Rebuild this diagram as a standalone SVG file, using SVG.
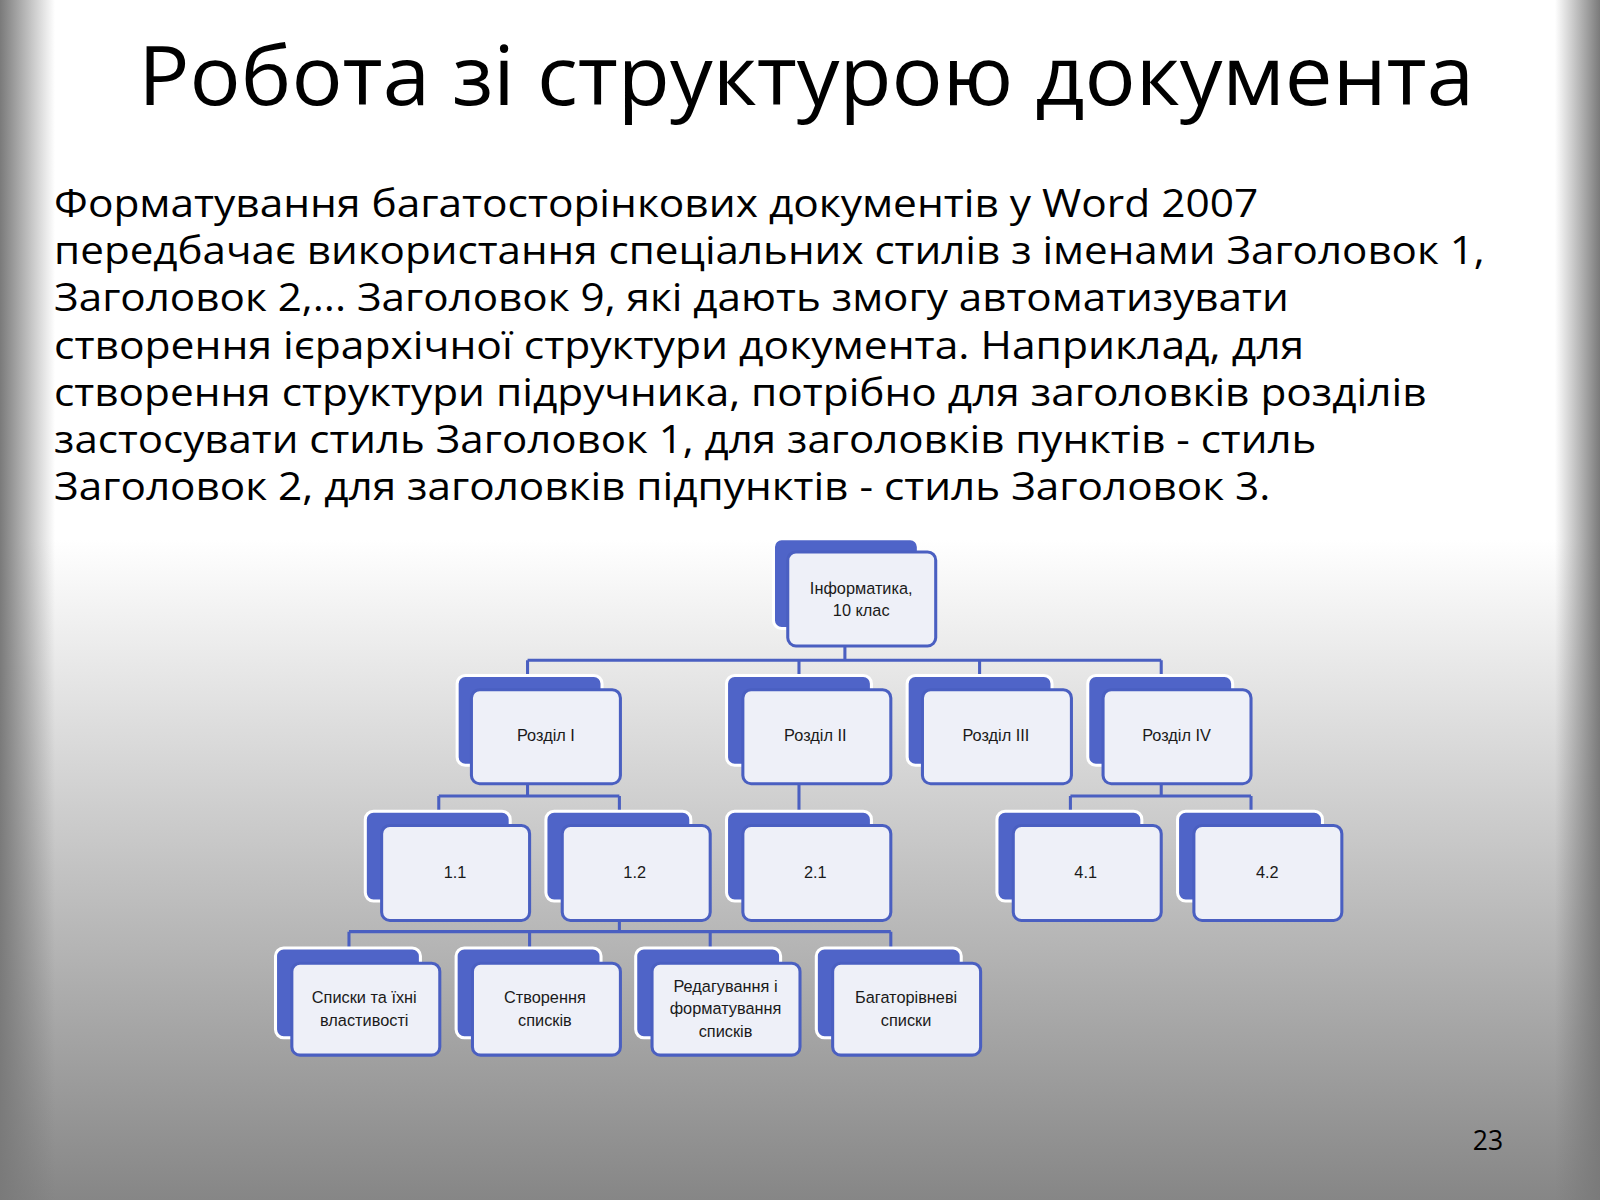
<svg xmlns="http://www.w3.org/2000/svg" width="1600" height="1200" viewBox="0 0 1600 1200">
<defs>
<linearGradient id="bg" x1="0" y1="0" x2="0" y2="1">
<stop offset="0" stop-color="#ffffff"/><stop offset="0.45" stop-color="#ffffff"/><stop offset="1" stop-color="#868686"/>
</linearGradient>
<linearGradient id="lft" x1="0" y1="0" x2="1" y2="0">
<stop offset="0" stop-color="#7a7a7a"/><stop offset="1" stop-color="#7a7a7a" stop-opacity="0"/>
</linearGradient>
<linearGradient id="rgt" x1="1" y1="0" x2="0" y2="0">
<stop offset="0" stop-color="#7a7a7a"/><stop offset="1" stop-color="#7a7a7a" stop-opacity="0"/>
</linearGradient>
<style>
.bk{fill:#4f64c8;stroke:#ffffff;stroke-width:3}
.fr{fill:#eef0f8;stroke:#4a5fc1;stroke-width:3}
.ln{fill:none;stroke:#4a5fc1;stroke-width:3}
.nt{font-family:"Liberation Sans Narrow","Liberation Sans",sans-serif;font-size:16px;fill:#1a1a1a;text-anchor:middle}
.bt{font-family:"Open Sans","Liberation Sans",sans-serif;font-size:38px;fill:#000}
</style>
</defs>
<rect width="1600" height="1200" fill="url(#bg)"/>
<rect x="0" y="0" width="55" height="1200" fill="url(#lft)"/>
<rect x="1555" y="0" width="45" height="1200" fill="url(#rgt)"/>
<g transform="scale(1.020408)">
<text x="790" y="103" font-family="Open Sans, Liberation Sans, sans-serif" font-size="80" text-anchor="middle" textLength="1309" lengthAdjust="spacingAndGlyphs">Робота зі структурою документа</text>
<g class="bt">
<text x="53" y="213" textLength="1180" lengthAdjust="spacingAndGlyphs">Форматування багатосторінкових документів у Word 2007</text>
<text x="53" y="259" textLength="1402" lengthAdjust="spacingAndGlyphs">передбачає використання спеціальних стилів з іменами Заголовок 1,</text>
<text x="53" y="305" textLength="1210" lengthAdjust="spacingAndGlyphs">Заголовок 2,... Заголовок 9, які дають змогу автоматизувати</text>
<text x="53" y="352" textLength="1225" lengthAdjust="spacingAndGlyphs">створення ієрархічної структури документа. Наприклад, для</text>
<text x="53" y="398" textLength="1345" lengthAdjust="spacingAndGlyphs">створення структури підручника, потрібно для заголовків розділів</text>
<text x="53" y="444" textLength="1237" lengthAdjust="spacingAndGlyphs">застосувати стиль Заголовок 1, для заголовків пунктів - стиль</text>
<text x="53" y="490" textLength="1192" lengthAdjust="spacingAndGlyphs">Заголовок 2, для заголовків підпунктів - стиль Заголовок 3.</text>
</g>
<g id="connectors" class="ln">
<path d="M828 633V647M517 647H1138M517 647V662M783 647V662M960 647V662M1138 647V662"/>
<path d="M517 768V780M430 780H607M430 780V795M607 780V795"/>
<path d="M783 768V795"/>
<path d="M1138 768V780M1049 780H1226M1049 780V795M1226 780V795"/>
<path d="M607 902V913M342 913H873M342 913V929M519 913V929M696 913V929M873 913V929"/>
</g>
<g id="n0"><rect class="bk" x="758" y="528" width="142" height="88" rx="8"/><rect class="fr" x="772" y="541" width="145" height="92" rx="8"/><text class="nt" x="844" y="582">Інформатика,</text><text class="nt" x="844" y="604">10 клас</text></g>
<g id="n1"><rect class="bk" x="448" y="662" width="142" height="88" rx="8"/><rect class="fr" x="462" y="676" width="146" height="92" rx="8"/><text class="nt" x="535" y="726">Розділ І</text></g>
<g id="n2"><rect class="bk" x="712" y="662" width="142" height="88" rx="8"/><rect class="fr" x="728" y="676" width="145" height="92" rx="8"/><text class="nt" x="799" y="726">Розділ ІІ</text></g>
<g id="n3"><rect class="bk" x="889" y="662" width="142" height="88" rx="8"/><rect class="fr" x="904" y="676" width="146" height="92" rx="8"/><text class="nt" x="976" y="726">Розділ ІІІ</text></g>
<g id="n4"><rect class="bk" x="1066" y="662" width="142" height="88" rx="8"/><rect class="fr" x="1081" y="676" width="145" height="92" rx="8"/><text class="nt" x="1153" y="726">Розділ IV</text></g>
<g id="n11"><rect class="bk" x="358" y="795" width="142" height="88" rx="8"/><rect class="fr" x="374" y="809" width="145" height="93" rx="8"/><text class="nt" x="446" y="860">1.1</text></g>
<g id="n12"><rect class="bk" x="535" y="795" width="142" height="88" rx="8"/><rect class="fr" x="551" y="809" width="145" height="93" rx="8"/><text class="nt" x="622" y="860">1.2</text></g>
<g id="n21"><rect class="bk" x="712" y="795" width="142" height="88" rx="8"/><rect class="fr" x="728" y="809" width="145" height="93" rx="8"/><text class="nt" x="799" y="860">2.1</text></g>
<g id="n41"><rect class="bk" x="977" y="795" width="142" height="88" rx="8"/><rect class="fr" x="993" y="809" width="145" height="93" rx="8"/><text class="nt" x="1064" y="860">4.1</text></g>
<g id="n42"><rect class="bk" x="1154" y="795" width="142" height="88" rx="8"/><rect class="fr" x="1170" y="809" width="145" height="93" rx="8"/><text class="nt" x="1242" y="860">4.2</text></g>
<g id="n121"><rect class="bk" x="270" y="929" width="142" height="88" rx="8"/><rect class="fr" x="286" y="944" width="145" height="90" rx="8"/><text class="nt" x="357" y="983">Списки та їхні</text><text class="nt" x="357" y="1005">властивості</text></g>
<g id="n122"><rect class="bk" x="447" y="929" width="142" height="88" rx="8"/><rect class="fr" x="463" y="944" width="145" height="90" rx="8"/><text class="nt" x="534" y="983">Створення</text><text class="nt" x="534" y="1005">списків</text></g>
<g id="n123"><rect class="bk" x="623" y="929" width="142" height="88" rx="8"/><rect class="fr" x="639" y="944" width="145" height="90" rx="8"/><text class="nt" x="711" y="972">Редагування і</text><text class="nt" x="711" y="994">форматування</text><text class="nt" x="711" y="1016">списків</text></g>
<g id="n124"><rect class="bk" x="800" y="929" width="142" height="88" rx="8"/><rect class="fr" x="816" y="944" width="145" height="90" rx="8"/><text class="nt" x="888" y="983">Багаторівневі</text><text class="nt" x="888" y="1005">списки</text></g>
<text x="1473" y="1127" font-family="Open Sans, Liberation Sans, sans-serif" font-size="26" text-anchor="end">23</text>
</g>
</svg>
